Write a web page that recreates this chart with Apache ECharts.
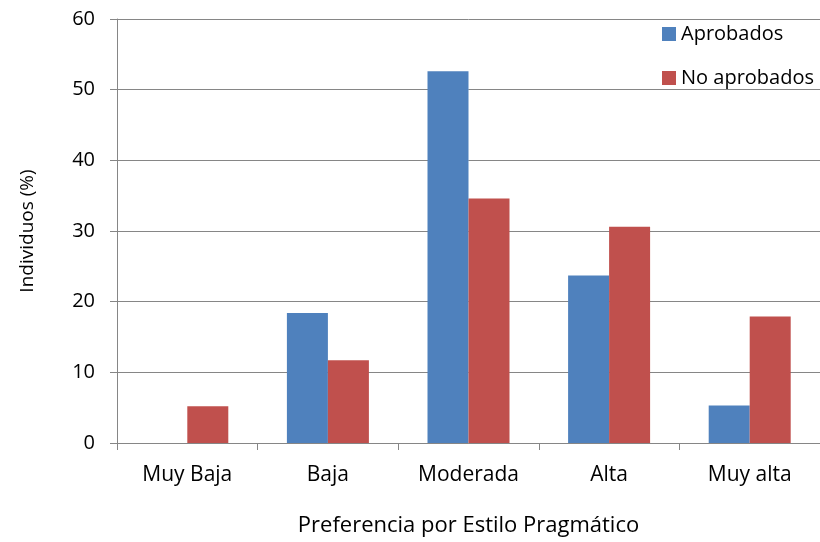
<!DOCTYPE html>
<html><head><meta charset="utf-8">
<script src="https://cdn.jsdelivr.net/npm/echarts@6/dist/echarts.min.js"></script>
<style>html,body{margin:0;padding:0;background:#fff}#c{width:820px;height:542px}</style>
</head><body><div id="c"></div>
<script>
var categories = ['Muy Baja', 'Baja', 'Moderada', 'Alta', 'Muy alta'];
var aprobados = [0, 18.4, 52.6, 23.7, 5.3];
var noAprobados = [5.2, 11.7, 34.6, 30.6, 17.9];
var seriesNames = ['Aprobados', 'No aprobados'];
var yTicks = {min: 0, max: 60, interval: 10};
var xTitle = 'Preferencia por Estilo Pragmático';
var yTitle = 'Individuos (%)';

var font = "'Open Sans', 'Noto Sans', sans-serif";
var chart = echarts.init(document.getElementById('c'));
chart.setOption({
  animation: false,
  grid: {left: 117, right: -7, top: 19, bottom: 96, containLabel: false},
  legend: {
    orient: 'vertical', left: 657, top: 19, itemWidth: 14, itemHeight: 14, itemGap: 24,
    textStyle: {fontFamily: font, fontSize: 20, color: '#000'},
    icon: 'rect', data: seriesNames
  },
  xAxis: {
    type: 'category', data: categories,
    axisLine: {lineStyle: {color: '#868686', width: 1}},
    axisTick: {show: true, length: 7, lineStyle: {color: '#868686'}},
    axisLabel: {fontFamily: font, fontSize: 21, color: '#000', margin: 22},
    name: xTitle, nameLocation: 'middle', nameGap: 72,
    nameTextStyle: {fontFamily: font, fontSize: 22, color: '#000'}
  },
  yAxis: {
    type: 'value', min: yTicks.min, max: yTicks.max, interval: yTicks.interval,
    axisLine: {show: true, lineStyle: {color: '#868686'}},
    axisTick: {show: true, length: 7, lineStyle: {color: '#868686'}},
    splitLine: {lineStyle: {color: '#868686'}},
    axisLabel: {fontFamily: font, fontSize: 20, color: '#000', margin: 22},
    name: yTitle, nameLocation: 'middle', nameGap: 80, nameRotate: 90,
    nameTextStyle: {fontFamily: font, fontSize: 19, color: '#000'}
  },
  series: [
    {name: seriesNames[0], type: 'bar', data: aprobados, barWidth: 41, barGap: '0%',
     itemStyle: {color: '#4F81BD'}},
    {name: seriesNames[1], type: 'bar', data: noAprobados, barWidth: 41, barGap: '0%',
     itemStyle: {color: '#C0504D'}}
  ]
});
</script></body></html>
